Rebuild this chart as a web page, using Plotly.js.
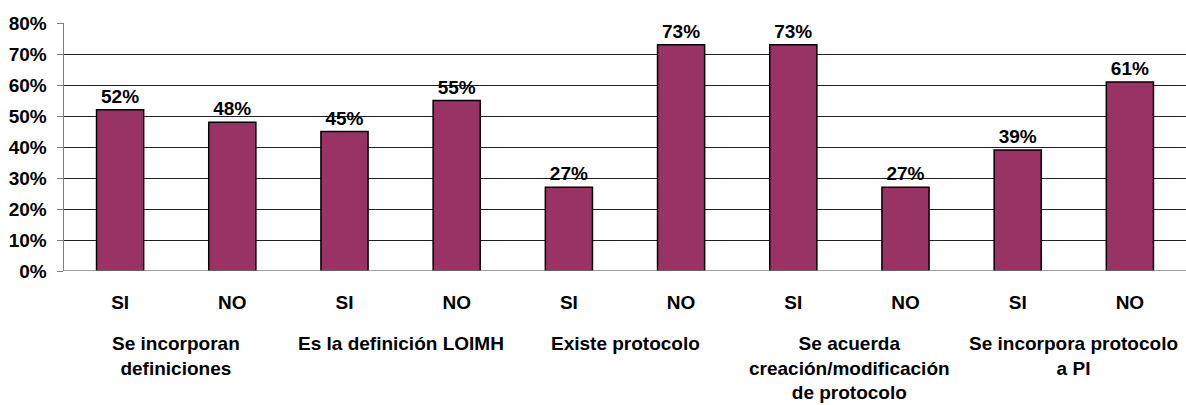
<!DOCTYPE html>
<html><head><meta charset="utf-8">
<script src="https://cdn.plot.ly/plotly-3.0.1.min.js"></script>
<style>body{margin:0;background:#fff}#c{width:1186px;height:405px}</style>
</head><body><div id="c"></div>
<script>
const answers = ["SI","NO","SI","NO","SI","NO","SI","NO","SI","NO"];
const values = [52, 48, 45, 55, 27, 73, 73, 27, 39, 61];
const groups = ["Se incorporan<br>definiciones", "Es la definición LOIMH", "Existe protocolo", "Se acuerda<br>creación/modificación<br>de protocolo", "Se incorpora protocolo<br>a PI"];
const yTicks = [0,10,20,30,40,50,60,70,80];

const idx = values.map((v,i)=>i);
const font = {family:"Liberation Sans, Arial, sans-serif", size:19, color:"#000"};
const trace = {
  type:"bar", x: idx, y: values,
  marker:{color:"#993366", line:{color:"#000", width:1.5}},
  text: values.map(v=>"<b>"+v+"%</b>"), textposition:"outside", cliponaxis:false,
  textfont:{family:font.family, size:19, color:"#000"},
  hoverinfo:"skip"
};
const annotations = groups.map((g,k)=>({
  x: 2*k+0.5, xref:"x", y:0, yref:"paper", yanchor:"top", yshift:-60,
  text:"<b>"+g+"</b>", showarrow:false, align:"center",
  font:{family:font.family, size:19, color:"#000"}
}));
const layout = {
  width:1186, height:405, margin:{l:64, r:0, t:23, b:134},
  paper_bgcolor:"#fff", plot_bgcolor:"#fff",
  showlegend:false, bargap:0.58,
  xaxis:{range:[-0.5,9.5], tickvals:idx, ticktext:answers.map(a=>"<b>"+a+"</b>"),
    showgrid:false, zeroline:false, ticks:"", showline:false,
    tickfont:font, ticklabelstandoff:18, fixedrange:true},
  yaxis:{range:[0,80], tickvals:yTicks, ticktext:yTicks.map(t=>"<b>"+t+"%</b>"),
    showgrid:true, gridcolor:"#222", gridwidth:1, zeroline:false,
    showline:true, linecolor:"#808080", linewidth:1.5, ticks:"outside", ticklen:6, tickcolor:"#808080",
    tickfont:font, ticklabelstandoff:6, fixedrange:true},
  shapes:[{type:"line", xref:"paper", yref:"y", x0:0, x1:1, y0:0, y1:0, line:{color:"#808080", width:1.5}}],
  annotations: annotations
};
Plotly.newPlot("c",[trace],layout,{displayModeBar:false, staticPlot:true});
</script></body></html>
